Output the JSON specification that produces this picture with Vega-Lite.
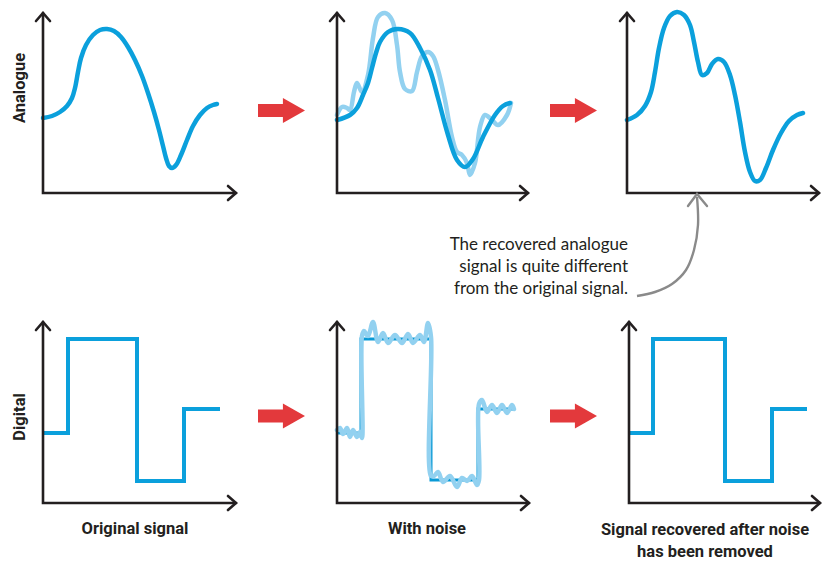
{
  "$schema": "https://vega.github.io/schema/vega-lite/v6.json",
  "width": 827,
  "height": 564,
  "autosize": {"type": "fit", "contains": "padding"},
  "padding": 0,
  "background": "white",
  "config": {"view": {"stroke": null}},
  "datasets": {
    "axes": [
      {"g":"1L","x":43,"y":13},{"g":"1L","x":43,"y":193},{"g":"1L","x":236,"y":193},
      {"g":"1Y","x":36,"y":21},{"g":"1Y","x":43,"y":13},{"g":"1Y","x":50,"y":21},
      {"g":"1X","x":228,"y":186},{"g":"1X","x":236,"y":193},{"g":"1X","x":228,"y":200},
      {"g":"2L","x":337,"y":13},{"g":"2L","x":337,"y":193},{"g":"2L","x":528,"y":193},
      {"g":"2Y","x":330,"y":21},{"g":"2Y","x":337,"y":13},{"g":"2Y","x":344,"y":21},
      {"g":"2X","x":520,"y":186},{"g":"2X","x":528,"y":193},{"g":"2X","x":520,"y":200},
      {"g":"3L","x":627,"y":13},{"g":"3L","x":627,"y":193},{"g":"3L","x":819,"y":193},
      {"g":"3Y","x":620,"y":21},{"g":"3Y","x":627,"y":13},{"g":"3Y","x":634,"y":21},
      {"g":"3X","x":811,"y":186},{"g":"3X","x":819,"y":193},{"g":"3X","x":811,"y":200},
      {"g":"4L","x":43,"y":322},{"g":"4L","x":43,"y":503},{"g":"4L","x":236,"y":503},
      {"g":"4Y","x":36,"y":330},{"g":"4Y","x":43,"y":322},{"g":"4Y","x":50,"y":330},
      {"g":"4X","x":228,"y":496},{"g":"4X","x":236,"y":503},{"g":"4X","x":228,"y":510},
      {"g":"5L","x":337,"y":322},{"g":"5L","x":337,"y":503},{"g":"5L","x":529,"y":503},
      {"g":"5Y","x":330,"y":330},{"g":"5Y","x":337,"y":322},{"g":"5Y","x":344,"y":330},
      {"g":"5X","x":521,"y":496},{"g":"5X","x":529,"y":503},{"g":"5X","x":521,"y":510},
      {"g":"6L","x":629,"y":322},{"g":"6L","x":629,"y":503},{"g":"6L","x":820,"y":503},
      {"g":"6Y","x":622,"y":330},{"g":"6Y","x":629,"y":322},{"g":"6Y","x":636,"y":330},
      {"g":"6X","x":812,"y":496},{"g":"6X","x":820,"y":503},{"g":"6X","x":812,"y":510}
    ],
    "curves": [
      {"g":"c1","x":43,"y":118},{"g":"c1","x":52,"y":116},{"g":"c1","x":60,"y":112},{"g":"c1","x":67,"y":106},{"g":"c1","x":72,"y":98},{"g":"c1","x":75,"y":88},{"g":"c1","x":78,"y":72},{"g":"c1","x":81,"y":58},{"g":"c1","x":86,"y":45},{"g":"c1","x":93,"y":35},{"g":"c1","x":100,"y":30},{"g":"c1","x":107,"y":29},{"g":"c1","x":114,"y":31},{"g":"c1","x":121,"y":37},{"g":"c1","x":128,"y":47},{"g":"c1","x":135,"y":60},{"g":"c1","x":142,"y":76},{"g":"c1","x":148,"y":93},{"g":"c1","x":154,"y":112},{"g":"c1","x":159,"y":130},{"g":"c1","x":163,"y":146},{"g":"c1","x":166,"y":158},{"g":"c1","x":169,"y":166},{"g":"c1","x":172,"y":168},{"g":"c1","x":176,"y":165},{"g":"c1","x":181,"y":155},{"g":"c1","x":187,"y":140},{"g":"c1","x":193,"y":126},{"g":"c1","x":200,"y":115},{"g":"c1","x":207,"y":108},{"g":"c1","x":213,"y":105},{"g":"c1","x":217,"y":104},
      {"g":"c2","x":337,"y":120},{"g":"c2","x":350,"y":115},{"g":"c2","x":357,"y":108},{"g":"c2","x":363,"y":95},{"g":"c2","x":368,"y":83},{"g":"c2","x":372,"y":68},{"g":"c2","x":376,"y":53},{"g":"c2","x":380,"y":42},{"g":"c2","x":388,"y":32},{"g":"c2","x":398,"y":29},{"g":"c2","x":410,"y":33},{"g":"c2","x":420,"y":48},{"g":"c2","x":430,"y":70},{"g":"c2","x":438,"y":98},{"g":"c2","x":448,"y":135},{"g":"c2","x":457,"y":160},{"g":"c2","x":465,"y":167},{"g":"c2","x":473,"y":159},{"g":"c2","x":483,"y":137},{"g":"c2","x":495,"y":115},{"g":"c2","x":503,"y":106},{"g":"c2","x":510,"y":103},
      {"g":"c3","x":627,"y":120},{"g":"c3","x":637,"y":115},{"g":"c3","x":645,"y":106},{"g":"c3","x":651,"y":92},{"g":"c3","x":655,"y":72},{"g":"c3","x":659,"y":48},{"g":"c3","x":664,"y":28},{"g":"c3","x":670,"y":16},{"g":"c3","x":677,"y":12},{"g":"c3","x":684,"y":15},{"g":"c3","x":690,"y":25},{"g":"c3","x":694,"y":42},{"g":"c3","x":698,"y":62},{"g":"c3","x":702,"y":75},{"g":"c3","x":707,"y":73},{"g":"c3","x":712,"y":64},{"g":"c3","x":718,"y":59},{"g":"c3","x":724,"y":62},{"g":"c3","x":730,"y":75},{"g":"c3","x":735,"y":95},{"g":"c3","x":740,"y":122},{"g":"c3","x":745,"y":152},{"g":"c3","x":750,"y":172},{"g":"c3","x":755,"y":181},{"g":"c3","x":760,"y":180},{"g":"c3","x":766,"y":168},{"g":"c3","x":773,"y":150},{"g":"c3","x":781,"y":133},{"g":"c3","x":789,"y":121},{"g":"c3","x":797,"y":115},{"g":"c3","x":803,"y":113}
    ],
    "light": [
      {"g":"n2","x":337,"y":115},{"g":"n2","x":342,"y":107},{"g":"n2","x":347,"y":108},{"g":"n2","x":350,"y":110},{"g":"n2","x":354,"y":92},{"g":"n2","x":357,"y":83},{"g":"n2","x":362,"y":92},{"g":"n2","x":368,"y":75},{"g":"n2","x":373,"y":38},{"g":"n2","x":378,"y":17},{"g":"n2","x":385,"y":13},{"g":"n2","x":392,"y":20},{"g":"n2","x":397,"y":45},{"g":"n2","x":400,"y":72},{"g":"n2","x":405,"y":89},{"g":"n2","x":412,"y":91},{"g":"n2","x":417,"y":72},{"g":"n2","x":422,"y":56},{"g":"n2","x":428,"y":52},{"g":"n2","x":433,"y":56},{"g":"n2","x":438,"y":70},{"g":"n2","x":445,"y":100},{"g":"n2","x":452,"y":137},{"g":"n2","x":457,"y":152},{"g":"n2","x":462,"y":155},{"g":"n2","x":467,"y":163},{"g":"n2","x":470,"y":175},{"g":"n2","x":475,"y":163},{"g":"n2","x":480,"y":127},{"g":"n2","x":485,"y":115},{"g":"n2","x":492,"y":120},{"g":"n2","x":498,"y":125},{"g":"n2","x":507,"y":115},{"g":"n2","x":511,"y":103},
      {"g":"n5","x":337,"y":430},{"g":"n5","x":340,"y":428},{"g":"n5","x":343,"y":434},{"g":"n5","x":347,"y":428},{"g":"n5","x":350,"y":437},{"g":"n5","x":353,"y":430},{"g":"n5","x":357,"y":437},{"g":"n5","x":360,"y":432},{"g":"n5","x":362,"y":438},{"g":"n5","x":362,"y":336},{"g":"n5","x":364,"y":331},{"g":"n5","x":368,"y":336},{"g":"n5","x":373,"y":322},{"g":"n5","x":378,"y":342},{"g":"n5","x":383,"y":333},{"g":"n5","x":388,"y":343},{"g":"n5","x":395,"y":335},{"g":"n5","x":402,"y":343},{"g":"n5","x":408,"y":334},{"g":"n5","x":413,"y":343},{"g":"n5","x":420,"y":335},{"g":"n5","x":424,"y":342},{"g":"n5","x":428,"y":323},{"g":"n5","x":431,"y":337},{"g":"n5","x":431,"y":476},{"g":"n5","x":434,"y":476},{"g":"n5","x":438,"y":472},{"g":"n5","x":443,"y":482},{"g":"n5","x":450,"y":476},{"g":"n5","x":457,"y":487},{"g":"n5","x":462,"y":478},{"g":"n5","x":467,"y":481},{"g":"n5","x":472,"y":476},{"g":"n5","x":477,"y":485},{"g":"n5","x":479,"y":480},{"g":"n5","x":479,"y":404},{"g":"n5","x":482,"y":400},{"g":"n5","x":487,"y":412},{"g":"n5","x":492,"y":405},{"g":"n5","x":497,"y":413},{"g":"n5","x":502,"y":405},{"g":"n5","x":507,"y":413},{"g":"n5","x":512,"y":405},{"g":"n5","x":514,"y":409}
    ],
    "noiseDark": [
      {"g":"d5","x":337,"y":433},{"g":"d5","x":361,"y":433},{"g":"d5","x":361,"y":339},{"g":"d5","x":431,"y":339},{"g":"d5","x":431,"y":480},{"g":"d5","x":478,"y":480},{"g":"d5","x":478,"y":409},{"g":"d5","x":514,"y":409}
    ],
    "steps": [
      {"g":"s4","x":43,"y":433},{"g":"s4","x":68,"y":433},{"g":"s4","x":68,"y":339},{"g":"s4","x":137,"y":339},{"g":"s4","x":137,"y":481},{"g":"s4","x":184,"y":481},{"g":"s4","x":184,"y":409},{"g":"s4","x":220,"y":409},
      {"g":"s6","x":629,"y":433},{"g":"s6","x":653,"y":433},{"g":"s6","x":653,"y":339},{"g":"s6","x":725,"y":339},{"g":"s6","x":725,"y":481},{"g":"s6","x":772,"y":481},{"g":"s6","x":772,"y":409},{"g":"s6","x":807,"y":409}
    ],
    "arrows": [
      {"x":281.5,"y":110.5},{"x":573.5,"y":110.5},{"x":281.5,"y":416},{"x":573.5,"y":416}
    ],
    "pointer": [
      {"x":637,"y":296},{"x":655,"y":292},{"x":672,"y":284},{"x":686,"y":270},{"x":694,"y":250},{"x":698,"y":225},{"x":697,"y":197}
    ],
    "pointerHead": [
      {"x":688,"y":206},{"x":697,"y":194},{"x":707,"y":206}
    ],
    "sideLabels": [
      {"x":20,"y":88,"t":"Analogue"},{"x":20,"y":417,"t":"Digital"}
    ],
    "bottomLabels": [
      {"x":135,"y":529,"t":"Original signal"},{"x":427,"y":529,"t":"With noise"},{"x":705,"y":530,"t":"Signal recovered after noise"},{"x":705,"y":552,"t":"has been removed"}
    ],
    "note": [
      {"x":628,"y":245,"t":"The recovered analogue"},{"x":628,"y":267,"t":"signal is quite different"},{"x":628,"y":289,"t":"from the original signal."}
    ]
  },
  "encoding": {
    "x": {"field": "x", "type": "quantitative", "scale": {"domain": [0, 827], "nice": false, "zero": false}, "axis": null},
    "y": {"field": "y", "type": "quantitative", "scale": {"domain": [0, 564], "reverse": true, "nice": false, "zero": false}, "axis": null}
  },
  "layer": [
    {"data": {"name": "noiseDark"}, "mark": {"type": "line", "color": "#0a9ad6", "strokeWidth": 3}, "encoding": {"detail": {"field": "g"}, "order": {"value": null}}},
    {"data": {"name": "light"}, "mark": {"type": "line", "color": "#92d1f0", "strokeWidth": 4.5, "interpolate": "catmull-rom", "strokeCap": "round", "strokeJoin": "round"}, "encoding": {"detail": {"field": "g"}, "order": {"value": null}}},
    {"data": {"name": "curves"}, "mark": {"type": "line", "color": "#0ba0dc", "strokeWidth": 4.5, "interpolate": "catmull-rom", "strokeCap": "round"}, "encoding": {"detail": {"field": "g"}, "order": {"value": null}}},
    {"data": {"name": "steps"}, "mark": {"type": "line", "color": "#0ba0dc", "strokeWidth": 4, "strokeJoin": "miter"}, "encoding": {"detail": {"field": "g"}, "order": {"value": null}}},
    {"data": {"name": "axes"}, "mark": {"type": "line", "color": "#231f20", "strokeWidth": 2.6, "strokeCap": "round", "strokeJoin": "miter"}, "encoding": {"detail": {"field": "g"}, "order": {"value": null}}},
    {"data": {"name": "arrows"}, "mark": {"type": "point", "filled": true, "color": "#e3393c", "opacity": 1, "strokeWidth": 0, "size": 2209, "shape": "M-1,-0.28L0.06,-0.28L0.06,-0.53L1,0L0.06,0.53L0.06,0.28L-1,0.28Z"}},
    {"data": {"name": "pointer"}, "mark": {"type": "line", "color": "#8a8a8a", "strokeWidth": 2.4, "interpolate": "catmull-rom"}, "encoding": {"order": {"value": null}}},
    {"data": {"name": "pointerHead"}, "mark": {"type": "line", "color": "#8a8a8a", "strokeWidth": 2.4, "strokeCap": "round"}, "encoding": {"order": {"value": null}}},
    {"data": {"name": "sideLabels"}, "mark": {"type": "text", "angle": 270, "font": "Roboto", "fontWeight": "bold", "fontSize": 16.5, "color": "#231f20", "align": "center", "baseline": "middle"}, "encoding": {"text": {"field": "t"}}},
    {"data": {"name": "bottomLabels"}, "mark": {"type": "text", "font": "Roboto", "fontWeight": "bold", "fontSize": 16.5, "color": "#231f20", "align": "center", "baseline": "middle"}, "encoding": {"text": {"field": "t"}}},
    {"data": {"name": "note"}, "mark": {"type": "text", "font": "Lato", "fontSize": 17, "color": "#231f20", "align": "right", "baseline": "middle"}, "encoding": {"text": {"field": "t"}}}
  ]
}
